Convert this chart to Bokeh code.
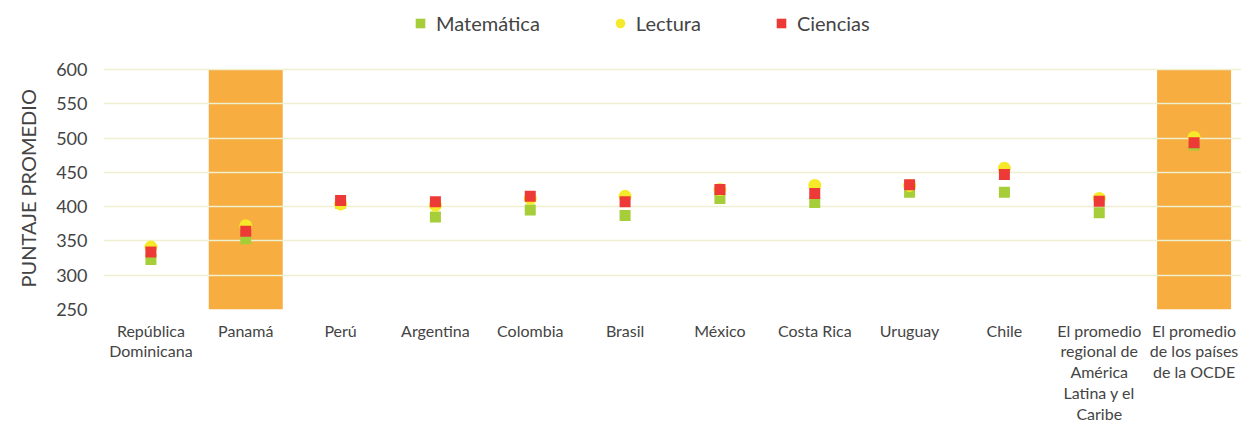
from bokeh.plotting import figure
from bokeh.models import FactorRange, Range1d, FixedTicker, Legend, LegendItem, ColumnDataSource, Title
from bokeh.embed import file_html
from bokeh.resources import INLINE

# ---- data ----
paises = [
    "República\nDominicana", "Panamá", "Perú", "Argentina", "Colombia", "Brasil",
    "México", "Costa Rica", "Uruguay", "Chile",
    "El promedio\nregional de\nAmérica\nLatina y el\nCaribe",
    "El promedio\nde los países\nde la OCDE",
]
matematica = [323, 353, 405, 385, 395, 387, 412, 406, 421, 421, 391, 490]
lectura    = [341, 372, 404, 402, 412, 415, 425, 431, 431, 456, 412, 501]
ciencias   = [334, 364, 409, 407, 415, 407, 425, 419, 432, 447, 408, 493]
resaltados = ["Panamá", "El promedio\nde los países\nde la OCDE"]
y_ticks = [250, 300, 350, 400, 450, 500, 550, 600]
y_titulo = "PUNTAJE PROMEDIO"

FONT = "Lato"
TXT = "#444444"

# frame runs to the top of the canvas so the legend fits inside it;
# the scale keeps 250..600 over the lower 240 px
y_top = y_ticks[0] + 309 * (y_ticks[-1] - y_ticks[0]) / 240

p = figure(
    width=1241, height=427, output_backend="svg", toolbar_location=None,
    x_range=FactorRange(*paises, range_padding=0),
    y_range=Range1d(y_ticks[0], y_top),
    min_border_left=103, min_border_right=0, min_border_top=0, min_border_bottom=118,
    outline_line_color=None,
)
p.background_fill_color = "white"
p.border_fill_color = "white"

src = ColumnDataSource(dict(x=paises, m=matematica, l=lectura, c=ciencias))

# highlight bands
p.vbar(x=resaltados, bottom=y_ticks[0], top=y_ticks[-1], width=0.78,
       fill_color="#f7a935", fill_alpha=0.95, line_color=None, level="underlay")

r_m = p.scatter("x", "m", source=src, marker="square", size=11,
                fill_color="#a6ce39", line_color=None)
r_l = p.scatter("x", "l", source=src, marker="circle", size=13,
                fill_color="#f5e92a", line_color=None)
r_c = p.scatter("x", "c", source=src, marker="square", size=11,
                fill_color="#ee3a37", line_color=None)

# axes
p.yaxis.ticker = FixedTicker(ticks=y_ticks)
p.yaxis.axis_line_color = None
p.yaxis.major_tick_line_color = None
p.yaxis.minor_tick_line_color = None
p.yaxis.major_label_text_font = FONT
p.yaxis.major_label_text_font_size = "18px"
p.yaxis.major_label_text_color = TXT
p.yaxis.major_label_standoff = 10

p.add_layout(Title(text=y_titulo, align="left", offset=22,
                   text_font=FONT, text_font_size="20px", text_font_style="normal",
                   text_color=TXT, standoff=27), "left")

p.xaxis.axis_line_color = None
p.xaxis.major_tick_line_color = None
p.xaxis.minor_tick_line_color = None
p.xaxis.major_label_text_font = FONT
p.xaxis.major_label_text_font_size = "16px"
p.xaxis.major_label_text_color = TXT
p.xaxis.major_label_standoff = 5
p.xaxis.major_label_text_line_height = 1.1

p.xgrid.grid_line_color = None
p.ygrid.grid_line_color = "#eef0cf"
p.ygrid.grid_line_width = 1.5

legend = Legend(items=[
    LegendItem(label="Matemática", renderers=[r_m]),
    LegendItem(label="Lectura", renderers=[r_l]),
    LegendItem(label="Ciencias", renderers=[r_c]),
], orientation="horizontal", location=(305, 274),
    label_text_font=FONT, label_text_font_size="20px", label_text_color=TXT,
    glyph_width=24, glyph_height=24, label_standoff=4, spacing=68,
    padding=6, margin=0,
    border_line_color=None, background_fill_alpha=0)
p.add_layout(legend, "center")

open("out.html", "w").write(file_html(p, INLINE))
